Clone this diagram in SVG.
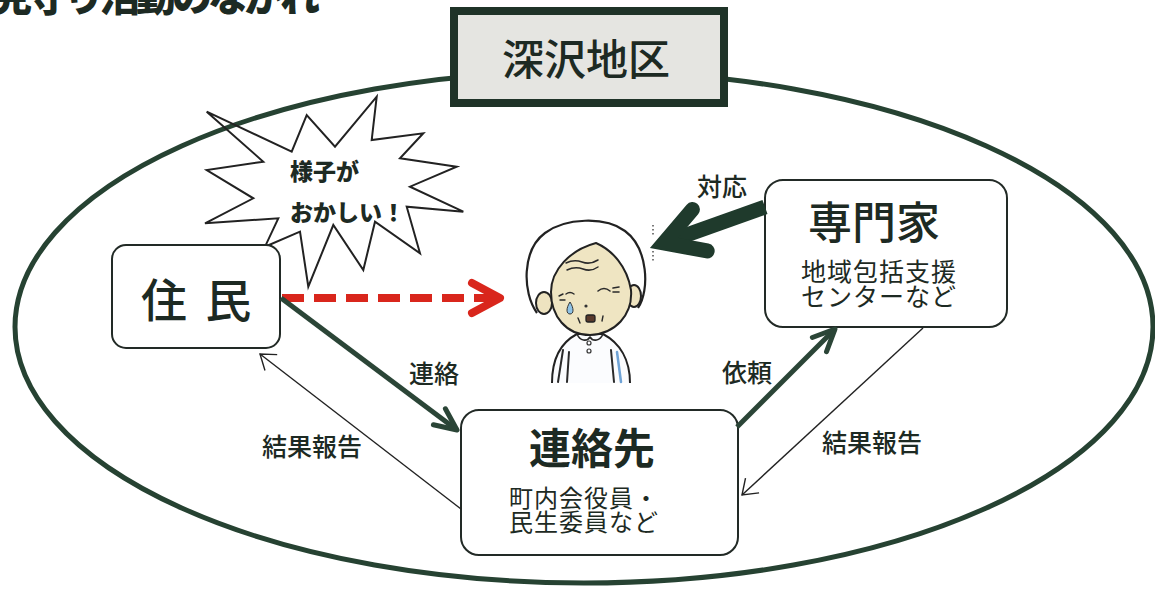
<svg xmlns="http://www.w3.org/2000/svg" width="1155" height="592" viewBox="0 0 1155 592">
  <style>
    .jp { font-family: "Noto Sans CJK JP", "Noto Sans CJK SC", sans-serif; fill: #1d2a23; }
    .box { fill: #ffffff; stroke: #222a26; stroke-width: 2; }
    .lbl { font-size: 25px; font-weight: 500; text-anchor: middle; }
    .thick { fill: none; stroke: #2b4537; stroke-width: 5; }
    .thin { fill: none; stroke: #222; stroke-width: 1.4; }
    .ink { fill: none; stroke: #2a2a2a; stroke-linecap: round; stroke-linejoin: round; }
  </style>
  <defs>
    <marker id="head-thick" markerUnits="userSpaceOnUse" viewBox="-30 -16 36 32" refX="0" refY="0" markerWidth="36" markerHeight="32" orient="auto" overflow="visible">
      <path d="M -22,-10 L 0,0 L -22,10" fill="none" stroke="#2b4537" stroke-width="5" stroke-linecap="round" stroke-linejoin="round"/>
    </marker>
    <marker id="head-thin" markerUnits="userSpaceOnUse" viewBox="-20 -14 24 28" refX="0" refY="0" markerWidth="24" markerHeight="28" orient="auto" overflow="visible">
      <path d="M -14,-10 L 0,0 L -14,10" fill="none" stroke="#222" stroke-width="1.4" stroke-linejoin="miter"/>
    </marker>
    <marker id="head-red" markerUnits="userSpaceOnUse" viewBox="-40 -22 46 44" refX="0" refY="0" markerWidth="46" markerHeight="44" orient="auto" overflow="visible">
      <path d="M -28,-15 L 0,0 L -28,15" fill="none" stroke="#d9261c" stroke-width="8" stroke-linecap="round" stroke-linejoin="round" stroke-dasharray="none"/>
    </marker>
    <marker id="head-big" markerUnits="userSpaceOnUse" viewBox="-60 -40 80 80" refX="0" refY="0" markerWidth="80" markerHeight="80" orient="auto" overflow="visible">
      <path d="M -38,-22 L 0,0 L -38,22" fill="none" stroke="#1f3a2c" stroke-width="15" stroke-linecap="round" stroke-linejoin="miter"/>
    </marker>
  </defs>

  <rect width="1155" height="592" fill="#ffffff"/>

  <!-- heading, running off the top edge -->
  <text class="jp" x="-8" y="11" font-size="40" font-weight="900" letter-spacing="-4" fill="#1c2a22">見守り活動のながれ</text>

  <!-- district boundary -->
  <ellipse id="district" cx="584" cy="327" rx="569" ry="256" fill="none" stroke="#264232" stroke-width="5"/>

  <!-- district name plate -->
  <g id="district-name">
    <rect x="454" y="11" width="270" height="92" fill="#e5e5e1" stroke="#1f3328" stroke-width="8"/>
    <text class="jp" x="586" y="75" font-size="42" font-weight="500" text-anchor="middle">深沢地区</text>
  </g>

  <!-- exclamation burst -->
  <g id="burst">
    <polygon points="206.7,111.7 291.7,151.7 306.7,115 335,146.7 376.7,96.7 371.7,140 423.3,133.3 400,158.3 456.7,166.7 410,186.7 463.3,211.7 406.7,206.7 420,253.3 375,221.7 363.3,270 333.3,225 308.3,286.7 300,231.7 265,246.7 278.3,218.3 205,223.3 253.3,198.3 206.7,170 263.3,161.7" fill="none" stroke="#222" stroke-width="2" stroke-linejoin="miter"/>
    <text class="jp" x="290" y="180" font-size="23" font-weight="900">様子が</text>
    <text class="jp" x="290" y="221" font-size="23" font-weight="900">おかしい！</text>
  </g>

  <!-- residents -->
  <g id="residents">
    <rect class="box" x="112" y="245" width="168" height="103" rx="14"/>
    <text class="jp" x="141" y="317" font-size="46" font-weight="500" letter-spacing="4">住 民</text>
  </g>

  <!-- specialists -->
  <g id="specialists">
    <rect class="box" x="765" y="180" width="242" height="147" rx="18"/>
    <text class="jp" x="874" y="239" font-size="44" font-weight="500" text-anchor="middle">専門家</text>
    <text class="jp" x="879" y="281" font-size="25" text-anchor="middle" letter-spacing="1">地域包括支援</text>
    <text class="jp" x="879" y="306" font-size="25" text-anchor="middle" letter-spacing="1">センターなど</text>
  </g>

  <!-- contact point -->
  <g id="contact">
    <rect class="box" x="461" y="410" width="277" height="145" rx="18"/>
    <text class="jp" x="592" y="464" font-size="42" font-weight="700" text-anchor="middle">連絡先</text>
    <text class="jp" x="509" y="507" font-size="24" letter-spacing="1">町内会役員・</text>
    <text class="jp" x="509" y="531" font-size="24" letter-spacing="1">民生委員など</text>
  </g>

  <!-- person in trouble -->
  <g id="person">
    <path d="M 552,383 C 552,360 560,343 577,334 L 603,334 C 620,343 630,360 630,383" fill="#fbfcfe" stroke="#222" stroke-width="2"/>
    <path class="ink" d="M 577,334 C 580,341 587,342 590,337 C 593,342 600,341 603,334" stroke-width="1.6" fill="#ffffff"/>
    <circle cx="589" cy="343" r="2" fill="none" stroke="#333" stroke-width="1.2"/>
    <circle cx="589" cy="351" r="2" fill="none" stroke="#333" stroke-width="1.2"/>
    <path class="ink" d="M 563,350 L 558,382 M 569,352 L 567,382 M 611,350 L 614,382" stroke-width="2"/>
    <path d="M 617,352 L 621,382" stroke="#6fa3d6" stroke-width="2.5" fill="none" stroke-linecap="round"/>
    <path d="M 537,313 C 522,292 522,250 545,233 C 565,218 605,216 625,231 C 648,248 650,290 638,308" fill="#ffffff" stroke="#222" stroke-width="2.2"/>
    <ellipse cx="544" cy="303" rx="8" ry="11" fill="#eee3c0" stroke="#222" stroke-width="2"/>
    <ellipse cx="634" cy="296" rx="7" ry="11" fill="#eee3c0" stroke="#222" stroke-width="2"/>
    <path d="M 551,292 C 551,270 570,250 596,243 C 612,250 627,266 631,290 C 633,315 615,334 590,335 C 566,335 551,316 551,292 Z" fill="#efe5c2" stroke="#222" stroke-width="2"/>
    <path class="ink" d="M 566,263 q 8,-4 16,-1 t 16,-2 M 567,270 q 8,-4 16,-1 t 15,-2" stroke-width="1.5"/>
    <path class="ink" d="M 598,291 q 6,-5 12,0 M 613,288 l 6,-1 M 613,292 l 6,0" stroke-width="1.6"/>
    <path class="ink" d="M 559,296 l 4,-2 M 560,300 l 5,0 M 566,294 q 4,-3 8,0" stroke-width="1.4"/>
    <path d="M 570,302 C 566,308 566,314 570,314 C 574,314 574,308 570,302 Z" fill="#8fc3e6" stroke="#333" stroke-width="1"/>
    <circle cx="586" cy="306" r="1.6" fill="#333"/>
    <rect x="586" y="315" width="9" height="7" rx="2" fill="#5a3a2c" stroke="#222" stroke-width="1.3"/>
    <path class="ink" d="M 578,318 l 2,5 M 603,316 l -1,5" stroke-width="1.4"/>
    <path d="M 653,225 L 653,237 M 653,251 L 653,262" stroke="#444" stroke-width="1.4" stroke-dasharray="1.5 2.5" fill="none"/>
  </g>

  <!-- connectors -->
  <g id="connectors">
    <path d="M 282,298 L 500,298" fill="none" stroke="#d9261c" stroke-width="8" stroke-dasharray="22 10" marker-end="url(#head-red)"/>
    <path class="thick" d="M 281,298 L 457,430" marker-end="url(#head-thick)"/>
    <path class="thick" d="M 737,427 L 835,329" stroke-width="4" marker-end="url(#head-thick)"/>
    <path d="M 765,207 L 664,243" fill="none" stroke="#1f3a2c" stroke-width="15" marker-end="url(#head-big)"/>
    <path class="thin" d="M 923,328 L 742,495" marker-end="url(#head-thin)"/>
    <path class="thin" d="M 461,509 L 260,354" marker-end="url(#head-thin)"/>
    <text class="jp lbl" x="722" y="196">対応</text>
    <text class="jp lbl" x="434" y="383">連絡</text>
    <text class="jp lbl" x="747" y="382">依頼</text>
    <text class="jp lbl" x="872" y="452">結果報告</text>
    <text class="jp lbl" x="312" y="456">結果報告</text>
  </g>
</svg>
